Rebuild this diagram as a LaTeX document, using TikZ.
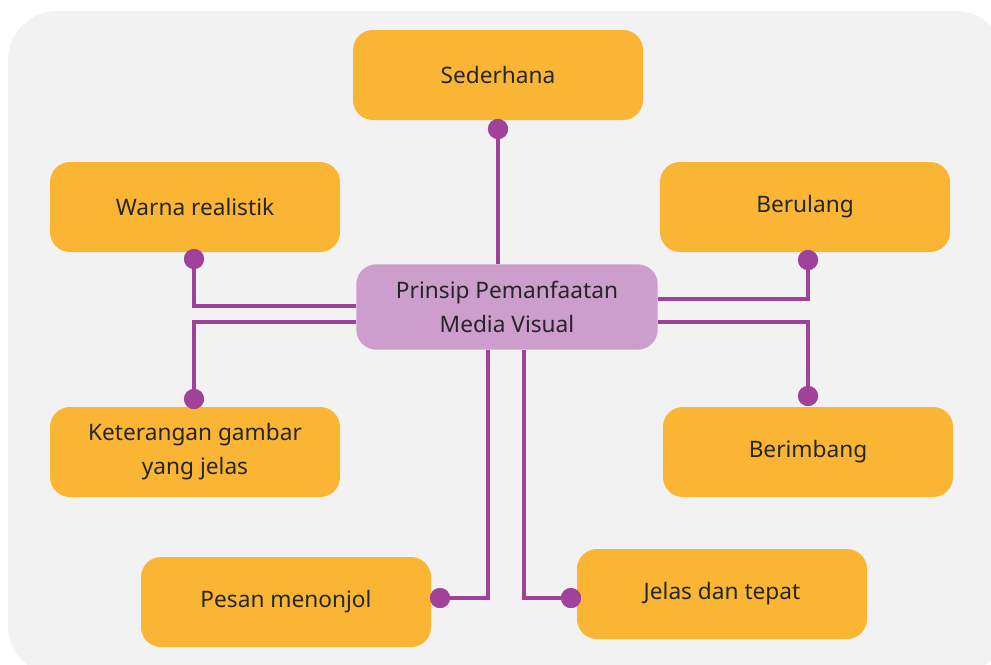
\documentclass[tikz,border=0pt]{standalone}
\usepackage{fontspec}
\setmainfont{Noto Sans}
\usepackage{xcolor}
\usetikzlibrary{positioning,calc}
\definecolor{bgrey}{HTML}{F2F2F2}
\definecolor{kuning}{HTML}{FBB535}
\definecolor{ungu}{HTML}{CD9DCB}
\definecolor{garis}{HTML}{A0429A}
\definecolor{teks}{HTML}{262626}
\tikzset{
  kotak/.style={rectangle,rounded corners=15pt,fill=kuning,draw=none,minimum width=217.5pt,minimum height=67.5pt,align=center,text=teks,font=\fontsize{17}{24}\selectfont},
  pusat/.style={kotak,fill=ungu,minimum width=226pt,minimum height=64pt},
  titik/.style={circle,fill=garis,draw=none,inner sep=0pt,minimum size=15pt},
  link/.style={draw=garis,line width=3pt}
}

\begin{document}
\begin{tikzpicture}[x=0.75pt,y=-0.75pt]
\useasboundingbox (0,0) rectangle (991,664);
\fill[bgrey,rounded corners=37pt] (8,11) rectangle (1005,675);
% kotak
\node (c) [pusat] at (507,307) {Prinsip Pemanfaatan\\[1.5pt]Media Visual};
\node (sed) [kotak] at (498,75) {Sederhana};
\node (war) [kotak] at (195,207) {Warna realistik};
\node (ber) [kotak] at (805,207) {Berulang};
\node (ket) [kotak] at (195,452) {Keterangan gambar\\[1.5pt]yang jelas};
\node (bim) [kotak] at (808,452) {Berimbang};
\node (pes) [kotak] at (286,602) {Pesan menonjol};
\node (jel) [kotak] at (722,594) {Jelas dan tepat};
% titik
\node (dsed) [titik] at (498,129) {};
\node (dwar) [titik] at (194,259) {};
\node (dber) [titik] at (808,260) {};
\node (dket) [titik] at (194,399) {};
\node (dbim) [titik] at (808,396) {};
\node (dpes) [titik] at (440,598) {};
\node (djel) [titik] at (571,598) {};
% garis
\draw[link] (dsed.center) -- (dsed |- c.north);
\draw[link] (dwar.center) |- (c.west |- 0,306);
\draw[link] (dket.center) |- (c.west |- 0,322);
\draw[link] (dber.center) |- (c.east |- 0,299);
\draw[link] (dbim.center) |- (c.east |- 0,322);
\draw[link] (dpes.center) -| (c.south -| 488,0);
\draw[link] (djel.center) -| (c.south -| 524,0);
% titik di atas garis
\foreach \d in {dsed,dwar,dber,dket,dbim,dpes,djel}
  \fill[garis] (\d) circle (7.5pt);
\end{tikzpicture}
\end{document}
